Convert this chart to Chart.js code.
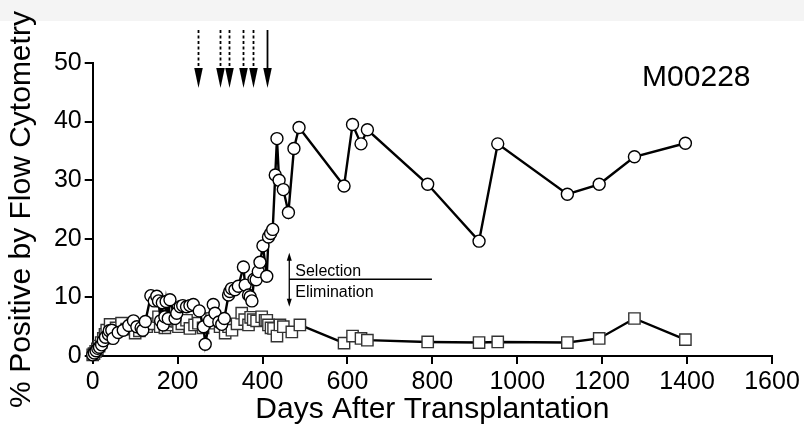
<!DOCTYPE html>
<html lang="en">
<head>
    <meta charset="UTF-8">
    <title>M00228 - % Positive by Flow Cytometry</title>
    <style>
        body { margin: 0; background: #ffffff; }
        #wrap { width: 804px; height: 435px; position: relative; }
    </style>
</head>
<body>
    <div id="wrap">
        <canvas id="flowChart" width="804" height="435"></canvas>
    </div>

    <script src="https://cdn.jsdelivr.net/npm/chart.js"></script>

    <script>
        // Open circles series (days, % positive)
        const circleDays = [0, 4, 8, 12, 16, 21, 25, 30, 37, 39, 45, 48, 60, 72, 85, 96, 104, 114, 118, 124,
            137, 145, 151, 155, 160, 164, 166, 170, 173, 178, 182, 194, 198, 206, 212, 221, 229, 237, 251, 261,
            265, 275, 284, 288, 297, 304, 310, 320, 323, 327, 335, 343, 355, 359, 367, 371, 375, 380, 385, 390,
            394, 401, 410, 414, 419, 424, 430, 434, 439, 449, 461, 474, 486, 592, 612, 632, 647, 789, 910, 954,
            1118, 1193, 1276, 1396];
        const circleValues = [0.2, 0.5, 0.9, 1.3, 1.5, 1.9, 2.6, 3.2, 3.7, 4.3, 4.4, 3.0, 4.0, 4.4, 5.2, 6.0, 5.0, 4.8, 4.4, 5.9,
            10.3, 9.4, 10.2, 9.4, 6.0, 9.1, 5.3, 6.7, 9.3, 6.4, 9.6, 6.4, 7.3, 8.4, 8.6, 8.4, 8.6, 8.8, 7.7, 5.0,
            2.0, 6.0, 8.8, 7.3, 5.8, 5.4, 6.4, 10.4, 11.0, 11.5, 11.3, 11.9, 15.2, 12.1, 10.4, 10.1, 9.4, 13.1, 13.0, 14.4,
            16.0, 18.8, 13.6, 20.3, 20.9, 21.6, 30.9, 37.1, 30.0, 28.4, 24.5, 35.4, 39.0, 29.0, 39.5, 36.2, 38.6, 29.3, 19.6, 36.2,
            27.6, 29.3, 34.0, 36.3];

        // Open squares series
        const squareDays = [0, 3, 7, 11, 15, 20, 25, 29, 33, 41, 55, 68, 80, 96, 100, 110, 127, 140, 155, 159,
            170, 182, 190, 198, 202, 210, 221, 229, 240, 249, 260, 269, 280, 290, 300, 312, 320, 328, 340, 351,
            358, 367, 372, 378, 386, 398, 406, 410, 414, 420, 426, 434, 441, 449, 469, 488, 592, 612, 632, 647,
            789, 910, 954, 1118, 1193, 1276, 1396];
        const squareValues = [0.2, 0.4, 0.8, 1.2, 1.7, 2.3, 3.0, 3.7, 4.4, 5.4, 4.8, 5.6, 4.6, 5.3, 3.9, 4.3, 5.0, 5.5, 6.7, 5.0,
            4.8, 5.3, 6.0, 5.9, 5.0, 5.5, 6.1, 4.7, 5.3, 5.6, 4.8, 6.4, 6.4, 5.6, 5.0, 3.9, 5.0, 4.4, 5.5, 7.3,
            6.2, 5.3, 6.6, 6.2, 6.0, 6.7, 6.1, 6.1, 5.3, 4.8, 4.7, 3.4, 5.3, 5.0, 4.1, 5.3, 2.2, 3.4, 3.0, 2.7,
            2.4, 2.3, 2.4, 2.3, 3.0, 6.4, 2.8];

        // Axis ticks
        const xTicks = [0, 200, 400, 600, 800, 1000, 1200, 1400, 1600];
        const yTicks = [0, 10, 20, 30, 40, 50];

        // Treatment arrows at the top (last one solid)
        const arrowDays = [248, 301, 320, 353, 378, 411];
        const arrowDashed = [true, true, true, true, true, false];

        const FONT = '"Liberation Sans", Arial, sans-serif';

        function toPoints(xs, ys) {
            return xs.map((x, i) => ({ x: x, y: ys[i] }));
        }

        // Filled arrow head pointing up or down
        function arrowHead(ctx, x, tipY, dir, w, h) {
            ctx.beginPath();
            ctx.moveTo(x, tipY);
            ctx.lineTo(x - w / 2, tipY - dir * h);
            ctx.lineTo(x + w / 2, tipY - dir * h);
            ctx.closePath();
            ctx.fill();
        }

        const bgPlugin = {
            id: 'bg',
            beforeDraw(chart) {
                const ctx = chart.ctx;
                ctx.save();
                ctx.fillStyle = '#ffffff';
                ctx.fillRect(0, 0, chart.width, chart.height);
                ctx.fillStyle = '#f4f4f4';
                ctx.fillRect(0, 0, chart.width, 21);
                ctx.restore();
            }
        };

        const notesPlugin = {
            id: 'notes',
            afterDatasetsDraw(chart) {
                const ctx = chart.ctx;
                const xs = chart.scales.x;
                const ys = chart.scales.y;
                ctx.save();
                ctx.fillStyle = '#000';
                ctx.strokeStyle = '#000';

                // injection arrows
                const top = 30;
                const tip = 88;
                arrowDays.forEach((d, i) => {
                    const x = Math.round(xs.getPixelForValue(d)) + 0.5;
                    ctx.lineWidth = 1.8;
                    ctx.setLineDash(arrowDashed[i] ? [3, 2.5] : []);
                    ctx.beginPath();
                    ctx.moveTo(x, top);
                    ctx.lineTo(x, tip - 14);
                    ctx.stroke();
                    ctx.setLineDash([]);
                    arrowHead(ctx, x, tip, 1, 8.5, 20);
                });

                // Selection / Elimination marker
                const ax = xs.getPixelForValue(463);
                const lineEnd = xs.getPixelForValue(799);
                const mid = ys.getPixelForValue(13.1);
                const up = ys.getPixelForValue(17.6);
                const down = ys.getPixelForValue(8.4);
                ctx.lineWidth = 1.3;
                ctx.beginPath();
                ctx.moveTo(ax, up + 4);
                ctx.lineTo(ax, down - 4);
                ctx.moveTo(ax, mid);
                ctx.lineTo(lineEnd, mid);
                ctx.stroke();
                arrowHead(ctx, ax, up, -1, 5, 8);
                arrowHead(ctx, ax, down, 1, 5, 8);

                ctx.font = '16px ' + FONT;
                ctx.textAlign = 'left';
                ctx.textBaseline = 'alphabetic';
                ctx.fillText('Selection', ax + 6, mid - 3);
                ctx.fillText('Elimination', ax + 6, mid + 18);

                // animal id
                ctx.font = '30px ' + FONT;
                ctx.fillText('M00228', xs.getPixelForValue(1294), ys.getPixelForValue(46));
                ctx.restore();
            }
        };

        const ctx = document.getElementById('flowChart').getContext('2d');
        const flowChart = new Chart(ctx, {
            type: 'scatter',
            data: {
                datasets: [
                    {
                        label: 'Circles',
                        data: toPoints(circleDays, circleValues),
                        showLine: true,
                        borderColor: '#000',
                        borderWidth: 2.4,
                        pointStyle: 'circle',
                        pointRadius: 6,
                        pointBorderWidth: 1.4,
                        pointBorderColor: '#000',
                        pointBackgroundColor: '#fff',
                        clip: false
                    },
                    {
                        label: 'Squares',
                        data: toPoints(squareDays, squareValues),
                        showLine: true,
                        borderColor: '#000',
                        borderWidth: 2.4,
                        pointStyle: 'rect',
                        pointRadius: 8,
                        pointBorderWidth: 1.4,
                        pointBorderColor: '#333',
                        pointBackgroundColor: '#fff',
                        clip: false
                    }
                ]
            },
            options: {
                responsive: false,
                animation: false,
                events: [],
                layout: { padding: { left: 0, right: 32, top: 63, bottom: 0 } },
                plugins: {
                    legend: { display: false },
                    tooltip: { enabled: false }
                },
                scales: {
                    x: {
                        type: 'linear',
                        min: 0,
                        max: 1600,
                        afterBuildTicks: (scale) => { scale.ticks = xTicks.map(v => ({ value: v })); },
                        afterFit: (scale) => { scale.height = 79; },
                        border: { display: true, color: '#000', width: 2 },
                        grid: { drawOnChartArea: false, tickLength: 8, color: '#000', lineWidth: 2 },
                        ticks: {
                            color: '#000',
                            padding: 3,
                            maxRotation: 0,
                            font: { size: 25, family: FONT },
                            callback: (v) => String(v)
                        },
                        title: {
                            display: true,
                            text: 'Days After Transplantation',
                            color: '#000',
                            font: { size: 30, family: FONT, lineHeight: 1 },
                            padding: { top: 0, bottom: 10 }
                        }
                    },
                    y: {
                        min: 0,
                        max: 50,
                        afterBuildTicks: (scale) => { scale.ticks = yTicks.map(v => ({ value: v })); },
                        afterFit: (scale) => { scale.width = 92.7; },
                        border: { display: true, color: '#000', width: 2 },
                        grid: { drawOnChartArea: false, tickLength: 8, color: '#000', lineWidth: 2 },
                        ticks: {
                            color: '#000',
                            padding: 3,
                            font: { size: 25, family: FONT },
                            callback: (v) => String(v)
                        },
                        title: {
                            display: true,
                            text: '% Positive by Flow Cytometry',
                            color: '#000',
                            font: { size: 30, family: FONT, lineHeight: 1 },
                            padding: { top: 7, bottom: 0 }
                        }
                    }
                }
            },
            plugins: [bgPlugin, notesPlugin]
        });
    </script>
</body>
</html>
